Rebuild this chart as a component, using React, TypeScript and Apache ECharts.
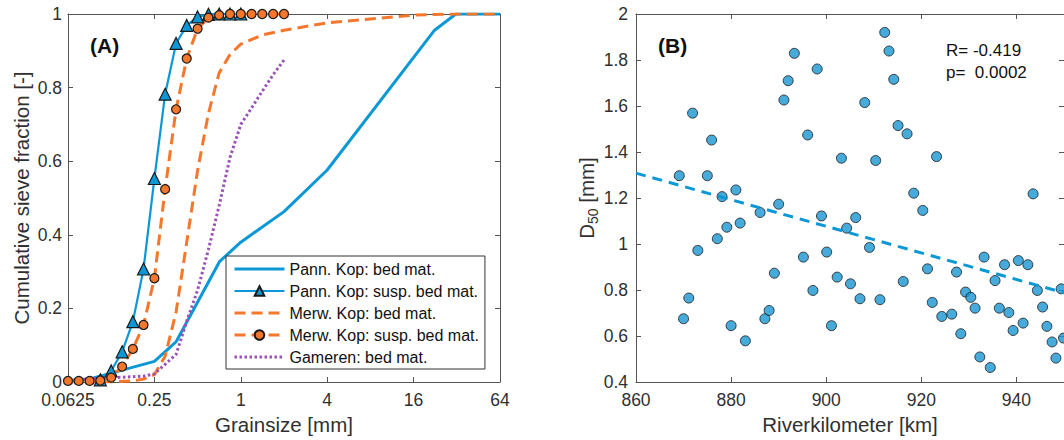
import React, { useEffect, useRef } from 'react';
import * as echarts from 'echarts';

// ---------- Panel (A): cumulative sieve curves ----------
const gsTickLabels = ['0.0625', '0.25', '1', '4', '16', '64'];

const pannBedSize = [0.0625, 0.09, 0.125, 0.25, 0.355, 0.71, 1, 2, 4, 22.4, 31.5, 64];
const pannBedFrac = [0.002, 0.009, 0.024, 0.056, 0.11, 0.327, 0.38, 0.463, 0.576, 0.956, 1, 1];

const pannSuspSize = [0.105, 0.125, 0.149, 0.177, 0.21, 0.25, 0.297, 0.354, 0.42, 0.5, 0.595, 0.707, 0.841, 1];
const pannSuspFrac = [0.006, 0.03, 0.082, 0.164, 0.307, 0.553, 0.782, 0.92, 0.969, 0.992, 0.999, 1, 1, 1];

const merwBedSize = [0.0625, 0.125, 0.177, 0.21, 0.25, 0.297, 0.354, 0.42, 0.5, 0.595, 0.707, 0.841, 1, 1.41, 2, 4, 16, 32, 64];
const merwBedFrac = [0, 0, 0.003, 0.008, 0.02, 0.07, 0.19, 0.38, 0.575, 0.73, 0.84, 0.89, 0.918, 0.943, 0.956, 0.976, 0.997, 1, 1];

const merwSuspSize = [0.0625, 0.0743, 0.0884, 0.105, 0.125, 0.149, 0.177, 0.21, 0.25, 0.297, 0.354, 0.42, 0.5, 0.595, 0.707, 0.841, 1, 1.19, 1.41, 1.68, 2];
const merwSuspFrac = [0.003, 0.003, 0.003, 0.004, 0.012, 0.042, 0.09, 0.155, 0.282, 0.524, 0.741, 0.879, 0.96, 0.99, 0.997, 1, 1, 1, 1, 1, 1];

const gamerenSize = [0.0625, 0.105, 0.21, 0.25, 0.354, 0.42, 0.5, 0.595, 0.707, 0.841, 1, 1.19, 1.41, 1.68, 2];
const gamerenFrac = [0.005, 0.01, 0.016, 0.022, 0.075, 0.165, 0.25, 0.36, 0.48, 0.61, 0.7, 0.745, 0.79, 0.835, 0.875];

const seriesNames = [
  'Pann. Kop: bed mat.',
  'Pann. Kop: susp. bed mat.',
  'Merw. Kop: bed mat.',
  'Merw. Kop: susp. bed mat.',
  'Gameren: bed mat.',
];

// ---------- Panel (B): D50 vs river kilometre ----------
const riverKm = [
  869.1, 870.0, 871.1, 871.9, 873.0, 875.0, 875.9, 877.1, 878.1, 879.1,
  880.0, 881.0, 881.9, 883.0, 886.1, 887.1, 888.0, 889.1, 890.0, 891.1,
  892.0, 893.3, 895.2, 896.1, 897.2, 898.1, 899.0, 900.1, 901.1, 902.3,
  903.2, 904.3, 905.1, 906.2, 907.1, 908.1, 909.1, 910.4, 911.3, 912.3,
  913.2, 914.2, 915.1, 916.2, 917.0, 918.4, 920.3, 921.3, 922.3, 923.2,
  924.3, 926.4, 927.4, 928.3, 929.3, 930.4, 931.3, 932.3, 933.2, 934.5,
  935.5, 936.4, 937.5, 938.4, 939.3, 940.4, 941.4, 942.4, 943.5, 944.4,
  945.5, 946.4, 947.5, 948.3, 949.4, 949.9,
];
const d50 = [
  1.297, 0.675, 0.765, 1.569, 0.972, 1.297, 1.452, 1.023, 1.206, 1.073,
  0.645, 1.235, 1.091, 0.579, 1.137, 0.675, 0.711, 0.873, 1.173, 1.626,
  1.71, 1.829, 0.943, 1.474, 0.798, 1.761, 1.122, 0.965, 0.645, 0.856,
  1.373, 1.069, 0.827, 1.115, 0.762, 1.615, 0.985, 1.363, 0.758, 1.92,
  1.839, 1.716, 1.515, 0.837, 1.479, 1.221, 1.146, 0.892, 0.746, 1.38,
  0.685, 0.695, 0.878, 0.61, 0.791, 0.768, 0.721, 0.509, 0.943, 0.463,
  0.841, 0.721, 0.91, 0.702, 0.624, 0.928, 0.656, 0.91, 1.218, 0.798,
  0.726, 0.642, 0.574, 0.504, 0.805, 0.591,
];
const regKm = [860, 950];
const regD50 = [1.308, 0.788];

const statLines = ['R= -0.419', 'p=  0.0002'];

const FONT = '"Liberation Sans", Arial, Helvetica, sans-serif';
const BLUE = '#0c98d6';
const MARK_BLUE = '#1896d2';
const ORANGE = '#f4772c';
const PURPLE = '#9b52b5';
const AXIS = '#555555';
const LABEL = '#303030';

const zip = (a: number[], b: number[]) => a.map((v, i) => [v, b[i]]);

function axisCommon(show: boolean) {
  return {
    axisLine: { show: true, onZero: false, lineStyle: { color: AXIS, width: 1 } },
    axisTick: { show: true, inside: true, length: 5, lineStyle: { color: AXIS, width: 1 } },
    axisLabel: { show, color: LABEL, fontSize: 17.5, fontFamily: FONT },
    splitLine: { show: false },
  };
}

export default function App() {
  const ref = useRef<HTMLDivElement>(null);

  useEffect(() => {
    if (!ref.current) return;
    const chart = echarts.init(ref.current, undefined, { renderer: 'svg' });

    const logAxis = (pos: 'bottom' | 'top', show: boolean) => ({
      type: 'log',
      logBase: 4,
      min: 0.0625,
      max: 64,
      gridIndex: 0,
      position: pos,
      ...axisCommon(show),
      axisLabel: {
        ...axisCommon(show).axisLabel,
        margin: 9,
        formatter: (v: number) => {
          const s = String(parseFloat(v.toPrecision(6)));
          return gsTickLabels.includes(s) ? s : '';
        },
      },
      ...(show
        ? {
            name: 'Grainsize [mm]',
            nameLocation: 'middle',
            nameGap: 31,
            nameTextStyle: { fontSize: 20.5, color: LABEL, fontFamily: FONT },
          }
        : {}),
    });

    const kmAxis = (pos: 'bottom' | 'top', show: boolean) => ({
      type: 'value',
      min: 860,
      max: 950,
      interval: 20,
      gridIndex: 1,
      position: pos,
      ...axisCommon(show),
      axisLabel: { ...axisCommon(show).axisLabel, margin: 9, showMaxLabel: false },
      ...(show
        ? {
            name: 'Riverkilometer [km]',
            nameLocation: 'middle',
            nameGap: 31,
            nameTextStyle: { fontSize: 20.5, color: LABEL, fontFamily: FONT },
          }
        : {}),
    });

    const option: any = {
      animation: false,
      backgroundColor: '#ffffff',
      textStyle: { fontFamily: FONT },
      grid: [
        { left: 68, right: 564, top: 14, bottom: 58 },
        { left: 636, right: 0, top: 14, bottom: 58 },
      ],
      xAxis: [logAxis('bottom', true), logAxis('top', false), kmAxis('bottom', true), kmAxis('top', false)],
      yAxis: [
        {
          type: 'value', min: 0, max: 1, interval: 0.2, gridIndex: 0, position: 'left',
          ...axisCommon(true),
          axisLabel: { ...axisCommon(true).axisLabel, margin: 6 },
          name: 'Cumulative sieve fraction [-]',
          nameLocation: 'middle',
          nameGap: 36,
          nameTextStyle: { fontSize: 20.5, color: LABEL, fontFamily: FONT },
        },
        { type: 'value', min: 0, max: 1, interval: 0.2, gridIndex: 0, position: 'right', ...axisCommon(false) },
        {
          type: 'value', min: 0.4, max: 2, interval: 0.2, gridIndex: 1, position: 'left',
          ...axisCommon(true),
          axisLabel: { ...axisCommon(true).axisLabel, margin: 8 },
          name: '{a|D}{s|50}{a| [mm]}',
          nameLocation: 'middle',
          nameGap: 36,
          nameTextStyle: {
            color: LABEL,
            fontFamily: FONT,
            rich: {
              a: { fontSize: 20.5, lineHeight: 21, verticalAlign: 'top', color: LABEL, fontFamily: FONT },
              s: { fontSize: 14, lineHeight: 14, padding: [10, 0, 0, 0], verticalAlign: 'top', color: LABEL, fontFamily: FONT },
            },
          },
        },
        { type: 'value', min: 0.4, max: 2, interval: 0.2, gridIndex: 1, position: 'right', ...axisCommon(false) },
      ],
      legend: {
        data: seriesNames,
        orient: 'vertical',
        left: 226,
        top: 256,
        padding: [5, 6, 4, 7],
        itemGap: 6,
        itemWidth: 50,
        itemHeight: 12,
        borderColor: '#333',
        borderWidth: 1,
        borderRadius: 0,
        backgroundColor: '#fff',
        lineStyle: { width: 'inherit' },
        textStyle: { fontSize: 16, color: '#111', fontFamily: FONT, lineHeight: 16 },
        selectedMode: false,
      },
      graphic: [
        { type: 'text', left: 90, top: 35, style: { text: '(A)', fontSize: 21, fontWeight: 'bold', fill: '#111', fontFamily: FONT } },
        { type: 'text', left: 658, top: 35, style: { text: '(B)', fontSize: 21, fontWeight: 'bold', fill: '#111', fontFamily: FONT } },
        { type: 'text', left: 946, top: 42, style: { text: statLines[0], fontSize: 17, fill: '#111', fontFamily: FONT } },
        { type: 'text', left: 946, top: 64, style: { text: statLines[1], fontSize: 17, fill: '#111', fontFamily: FONT } },
      ],
      series: [
        {
          name: seriesNames[0], type: 'line', xAxisIndex: 0, yAxisIndex: 0,
          data: zip(pannBedSize, pannBedFrac), symbol: 'none',
          lineStyle: { color: BLUE, width: 3 }, itemStyle: { color: BLUE, opacity: 0 },
        },
        {
          name: seriesNames[1], type: 'line', xAxisIndex: 0, yAxisIndex: 0,
          data: zip(pannSuspSize, pannSuspFrac), symbol: 'triangle', symbolSize: 12, showSymbol: true,
          lineStyle: { color: BLUE, width: 2.2 },
          itemStyle: { color: BLUE, borderColor: '#1a1a1a', borderWidth: 1.2 },
        },
        {
          name: seriesNames[2], type: 'line', xAxisIndex: 0, yAxisIndex: 0,
          data: zip(merwBedSize, merwBedFrac), symbol: 'none',
          lineStyle: { color: ORANGE, width: 3, type: [11, 6] }, itemStyle: { color: ORANGE, opacity: 0 },
        },
        {
          name: seriesNames[3], type: 'line', xAxisIndex: 0, yAxisIndex: 0,
          data: zip(merwSuspSize, merwSuspFrac), symbol: 'circle', symbolSize: 9, showSymbol: true,
          lineStyle: { color: ORANGE, width: 3, type: [11, 6] },
          itemStyle: { color: ORANGE, borderColor: '#1a1a1a', borderWidth: 1.2 },
        },
        {
          name: seriesNames[4], type: 'line', xAxisIndex: 0, yAxisIndex: 0,
          data: zip(gamerenSize, gamerenFrac), symbol: 'none',
          lineStyle: { color: PURPLE, width: 3, type: [2.5, 2.5] }, itemStyle: { color: PURPLE, opacity: 0 },
        },
        {
          name: 'D50', type: 'scatter', xAxisIndex: 2, yAxisIndex: 2,
          data: zip(riverKm, d50), symbol: 'circle', symbolSize: 10,
          itemStyle: { color: MARK_BLUE, borderColor: '#1a1a1a', borderWidth: 1 },
        },
        {
          name: 'fit', type: 'line', xAxisIndex: 2, yAxisIndex: 2,
          data: zip(regKm, regD50), symbol: 'none', z: 5,
          lineStyle: { color: BLUE, width: 3, type: [10, 7] },
        },
      ],
    };

    chart.setOption(option);
    return () => chart.dispose();
  }, []);

  return (
    <div
      ref={ref}
      style={{ position: 'fixed', left: 0, top: 0, width: 1064, height: 440, background: '#fff' }}
    />
  );
}
